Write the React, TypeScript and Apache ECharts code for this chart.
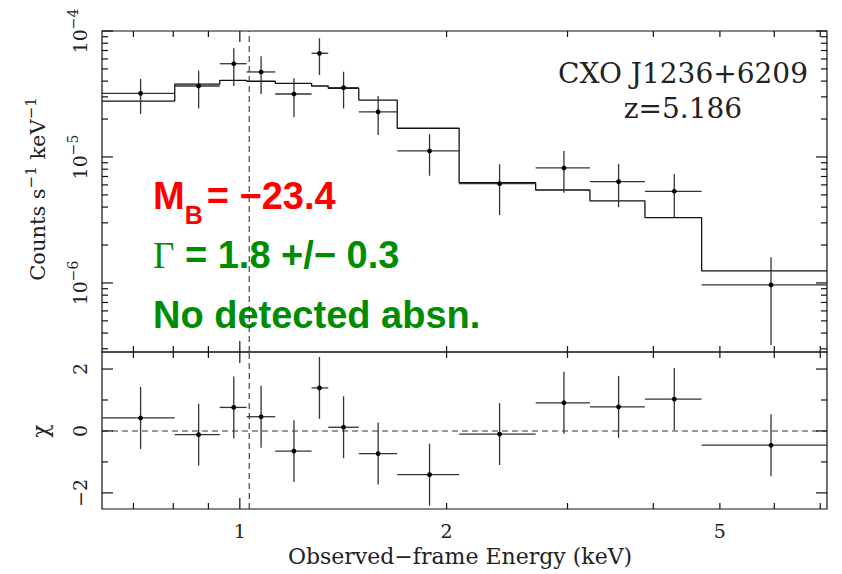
import React, { useEffect, useRef } from "react";
import * as echarts from "echarts";

// ---- axis ranges ----
const E_MIN = 0.63;
const E_MAX = 7.16;
const RATE_MIN = 2.83e-7;
const RATE_MAX = 1.0e-4;
const CHI_MIN = -2.52;
const CHI_MAX = 2.55;

// ---- spectral bins (keV) ----
const binLo = [0.63, 0.804, 0.935, 1.023, 1.126, 1.272, 1.345, 1.49, 1.695, 2.086, 2.696, 3.234, 3.889, 4.703];
const binHi = [0.804, 0.935, 1.023, 1.126, 1.272, 1.345, 1.49, 1.695, 2.086, 2.696, 3.234, 3.889, 4.703, 7.16];
const binCenter = [0.717, 0.871, 0.98, 1.074, 1.199, 1.306, 1.416, 1.59, 1.889, 2.389, 2.964, 3.56, 4.291, 5.935];

// ---- count rate (counts s^-1 keV^-1) ----
const rate = [3.2e-5, 3.66e-5, 5.5e-5, 4.73e-5, 3.16e-5, 6.65e-5, 3.55e-5, 2.28e-5, 1.116e-5, 6.14e-6, 8.18e-6, 6.37e-6, 5.34e-6, 9.64e-7];
const rateUp = [4.16e-5, 4.84e-5, 7.29e-5, 6.29e-5, 4.21e-5, 8.75e-5, 4.75e-5, 3.05e-5, 1.514e-5, 8.75e-6, 1.116e-5, 8.8e-6, 7.33e-6, 1.6e-6];
const rateDown = [2.19e-5, 2.43e-5, 3.66e-5, 3.16e-5, 2.07e-5, 4.48e-5, 2.43e-5, 1.495e-5, 7.1e-6, 3.46e-6, 5.21e-6, 3.99e-6, 3.32e-6, 3.22e-7];
const model = [2.78e-5, 3.78e-5, 4.06e-5, 3.99e-5, 3.84e-5, 3.66e-5, 3.51e-5, 2.83e-5, 1.69e-5, 6.25e-6, 5.47e-6, 4.48e-6, 3.3e-6, 1.245e-6];

// ---- residuals ----
const chi = [0.42, -0.12, 0.76, 0.46, -0.65, 1.39, 0.12, -0.73, -1.41, -0.1, 0.91, 0.78, 1.03, -0.46];
const chiErr = [1, 1, 1, 1, 1, 1, 1, 1, 1, 1, 1, 1, 1, 1];

const markerEnergy = 1.032;

// ---- ticks & labels ----
const xTicks = [0.7, 0.8, 0.9, 1, 2, 3, 4, 5, 6, 7];
const xMajor = [1];
const xLabels = [1, 2, 5];
const rateDecades = [1e-7, 1e-6, 1e-5, 1e-4];
const rateLabelDecades = [1e-6, 1e-5, 1e-4];
const minorMult = [2, 3, 4, 5, 6, 7, 8, 9];
const chiMajor = [-2, 0, 2];
const chiMinor = [-1, 1];

const SERIF = "DejaVu Serif";
const SANS = "Liberation Sans";
const INK = "#111";
const TXT = "#222";
const BAR = "#333";
const GREEN = "#008c00";
const RED = "#ff0000";

const MAJ = 11;
const MIN = 6;

function ln(x1: number, y1: number, x2: number, y2: number, w = 1.2, color = INK) {
  return { type: "line", shape: { x1, y1, x2, y2 }, style: { stroke: color, lineWidth: w } };
}

function supLabel(base: string, sup: string, size: number, supSize: number, raise: number) {
  return {
    text: `{b|${base}}{s|${sup}}`,
    rich: {
      b: { fontSize: size, fontFamily: SERIF, fill: TXT },
      s: { fontSize: supSize, fontFamily: SERIF, fill: TXT, padding: [0, 0, raise, 0] },
    },
  };
}

const centered = { align: "center", verticalAlign: "middle", textAlign: "center", textVerticalAlign: "middle" };

function topTicks(params: any, api: any) {
  const cs = params.coordSys;
  const x0 = cs.x, x1 = cs.x + cs.width, y0 = cs.y, y1 = cs.y + cs.height;
  const ch: any[] = [];
  for (const v of xTicks) {
    const px = api.coord([v, RATE_MAX])[0];
    const len = xMajor.includes(v) ? MAJ : MIN;
    ch.push(ln(px, y0, px, y0 + len));
    ch.push(ln(px, y1, px, y1 - len));
  }
  for (const d of rateDecades) {
    if (d >= RATE_MIN && d <= RATE_MAX) {
      const py = api.coord([1, d])[1];
      ch.push(ln(x0, py, x0 + MAJ, py));
      ch.push(ln(x1, py, x1 - MAJ, py));
    }
    for (const m of minorMult) {
      const v = d * m;
      if (v >= RATE_MIN && v <= RATE_MAX) {
        const py = api.coord([1, v])[1];
        ch.push(ln(x0, py, x0 + MIN, py));
        ch.push(ln(x1, py, x1 - MIN, py));
      }
    }
  }
  for (const d of rateLabelDecades) {
    const py = api.coord([1, d])[1];
    const exp = Math.round(Math.log10(d));
    const lab = supLabel("10", "\u2212" + Math.abs(exp), 19, 14, 15);
    ch.push({ type: "text", x: x0 - 22, y: py, rotation: Math.PI / 2, style: { ...lab, ...centered } });
  }
  return { type: "group", children: ch };
}

function bottomTicks(params: any, api: any) {
  const cs = params.coordSys;
  const x0 = cs.x, x1 = cs.x + cs.width, y0 = cs.y, y1 = cs.y + cs.height;
  const ch: any[] = [];
  for (const v of xTicks) {
    const px = api.coord([v, 0])[0];
    const len = xMajor.includes(v) ? MAJ : MIN;
    ch.push(ln(px, y0, px, y0 + len));
    ch.push(ln(px, y1, px, y1 - len));
  }
  for (const v of xLabels) {
    const px = api.coord([v, 0])[0];
    ch.push({
      type: "text", x: px, y: y1 + 22,
      style: { text: String(v), fontSize: 19, fontFamily: SERIF, fill: TXT, ...centered },
    });
  }
  for (const v of chiMajor) {
    const py = api.coord([1, v])[1];
    ch.push(ln(x0, py, x0 + MAJ, py));
    ch.push(ln(x1, py, x1 - MAJ, py));
    ch.push({
      type: "text", x: x0 - 22, y: py, rotation: Math.PI / 2,
      style: { text: v < 0 ? "\u2212" + Math.abs(v) : String(v), fontSize: 19, fontFamily: SERIF, fill: TXT, ...centered },
    });
  }
  for (const v of chiMinor) {
    const py = api.coord([1, v])[1];
    ch.push(ln(x0, py, x0 + MIN, py));
    ch.push(ln(x1, py, x1 - MIN, py));
  }
  return { type: "group", children: ch };
}

function errBars(params: any, api: any) {
  const c = api.coord([api.value(0), api.value(1)]);
  const l = api.coord([api.value(2), api.value(1)]);
  const r = api.coord([api.value(3), api.value(1)]);
  const lo = api.coord([api.value(0), api.value(4)]);
  const hi = api.coord([api.value(0), api.value(5)]);
  return {
    type: "group",
    children: [
      ln(l[0], c[1], r[0], c[1], 1.3, BAR),
      ln(c[0], lo[1], c[0], hi[1], 1.3, BAR),
      { type: "circle", shape: { cx: c[0], cy: c[1], r: 2.4 }, style: { fill: "#000" } },
    ],
  };
}

const hiddenAxis = {
  axisLine: { show: false },
  axisTick: { show: false },
  axisLabel: { show: false },
  splitLine: { show: false },
  minorTick: { show: false },
};

export default function App() {
  const ref = useRef<HTMLDivElement>(null);
  useEffect(() => {
    if (!ref.current) return;
    const chart = echarts.init(ref.current, undefined, { renderer: "svg" });
    const modelData: any[] = binLo.map((lo, i) => [lo, model[i]]);
    modelData.push([binHi[binHi.length - 1], model[model.length - 1]]);
    const rateData = rate.map((v, i) => [binCenter[i], v, binLo[i], binHi[i], rateDown[i], rateUp[i]]);
    const chiData = chi.map((v, i) => [binCenter[i], v, binLo[i], binHi[i], v - chiErr[i], v + chiErr[i]]);
    const dashed = { color: "#333", width: 1.1, type: [6, 4] as any };

    const option: any = {
      animation: false,
      backgroundColor: "#fff",
      grid: [
        { left: 102, top: 31, width: 725, height: 321, show: true, borderColor: INK, borderWidth: 1.2, backgroundColor: "transparent" },
        { left: 102, top: 352, width: 725, height: 157, show: true, borderColor: INK, borderWidth: 1.2, backgroundColor: "transparent" },
      ],
      xAxis: [
        { type: "log", logBase: 10, gridIndex: 0, min: E_MIN, max: E_MAX, ...hiddenAxis },
        { type: "log", logBase: 10, gridIndex: 1, min: E_MIN, max: E_MAX, ...hiddenAxis },
      ],
      yAxis: [
        { type: "log", logBase: 10, gridIndex: 0, min: RATE_MIN, max: RATE_MAX, ...hiddenAxis },
        { type: "value", gridIndex: 1, min: CHI_MIN, max: CHI_MAX, ...hiddenAxis },
      ],
      series: [
        {
          type: "line", xAxisIndex: 0, yAxisIndex: 0, step: "end", data: modelData,
          symbol: "none", lineStyle: { color: INK, width: 1.3 }, silent: true,
        },
        {
          type: "line", xAxisIndex: 0, yAxisIndex: 0, data: [[markerEnergy, RATE_MIN], [markerEnergy, RATE_MAX]],
          symbol: "none", lineStyle: dashed, silent: true,
        },
        {
          type: "line", xAxisIndex: 1, yAxisIndex: 1, data: [[markerEnergy, CHI_MIN], [markerEnergy, CHI_MAX]],
          symbol: "none", lineStyle: dashed, silent: true,
        },
        {
          type: "line", xAxisIndex: 1, yAxisIndex: 1, data: [[E_MIN, 0], [E_MAX, 0]],
          symbol: "none", lineStyle: dashed, silent: true,
        },
        {
          type: "custom", xAxisIndex: 0, yAxisIndex: 0, data: rateData, renderItem: errBars,
          encode: { x: 0, y: 1 }, silent: true, z: 5,
        },
        {
          type: "custom", xAxisIndex: 1, yAxisIndex: 1, data: chiData, renderItem: errBars,
          encode: { x: 0, y: 1 }, silent: true, z: 5,
        },
        {
          type: "custom", xAxisIndex: 0, yAxisIndex: 0, data: [[1, RATE_MAX]], renderItem: topTicks,
          encode: { x: 0, y: 1 }, silent: true, z: 6,
        },
        {
          type: "custom", xAxisIndex: 1, yAxisIndex: 1, data: [[1, 0]], renderItem: bottomTicks,
          encode: { x: 0, y: 1 }, silent: true, z: 6,
        },
      ],
      graphic: [
        {
          type: "text", x: 38, y: 189, rotation: Math.PI / 2,
          style: {
            text: "{t|Counts s}{s|\u22121}{t| keV}{s|\u22121}",
            rich: {
              t: { fontSize: 21, fontFamily: SERIF, fill: TXT },
              s: { fontSize: 15, fontFamily: SERIF, fill: TXT, padding: [0, 0, 15, 0] },
            },
            ...centered,
          },
        },
        {
          type: "text", x: 40, y: 431, rotation: Math.PI / 2,
          style: { text: "\u03c7", fontSize: 22, fontFamily: SERIF, fill: TXT, ...centered },
        },
        {
          type: "text", x: 460, y: 556,
          style: { text: "Observed\u2212frame Energy (keV)", fontSize: 22, fontFamily: SERIF, fill: TXT, ...centered },
        },
        {
          type: "text", x: 683, y: 73,
          style: { text: "CXO J1236+6209", fontSize: 28, fontFamily: SERIF, fill: TXT, ...centered },
        },
        {
          type: "text", x: 683, y: 108,
          style: { text: "z=5.186", fontSize: 28, fontFamily: SERIF, fill: TXT, ...centered },
        },
        {
          type: "text", x: 153, y: 196,
          style: {
            text: "{m|M}{s|B}{m|= \u221223.4}",
            rich: {
              m: { fontSize: 38, fontFamily: SANS, fontWeight: "bold", fill: RED },
              s: { fontSize: 25, fontFamily: SANS, fontWeight: "bold", fill: RED, padding: [37, 4, 0, 0] },
            },
            align: "left", verticalAlign: "middle", textAlign: "left", textVerticalAlign: "middle",
          },
        },
        {
          type: "text", x: 153, y: 255,
          style: {
            text: "{g|\u0393}{t| = 1.8 +/\u2212 0.3}",
            rich: {
              g: { fontSize: 37, fontFamily: "Liberation Serif", fill: GREEN },
              t: { fontSize: 38, fontFamily: SANS, fontWeight: "bold", fill: GREEN },
            },
            align: "left", verticalAlign: "middle", textAlign: "left", textVerticalAlign: "middle",
          },
        },
        {
          type: "text", x: 153, y: 315,
          style: {
            text: "No detected absn.", fontSize: 38, fontFamily: SANS, fontWeight: "bold", fill: GREEN,
            align: "left", verticalAlign: "middle", textAlign: "left", textVerticalAlign: "middle",
          },
        },
      ],
    };
    chart.setOption(option);
    return () => chart.dispose();
  }, []);
  return <div ref={ref} style={{ position: "absolute", left: 0, top: 0, width: 842, height: 574 }} />;
}
